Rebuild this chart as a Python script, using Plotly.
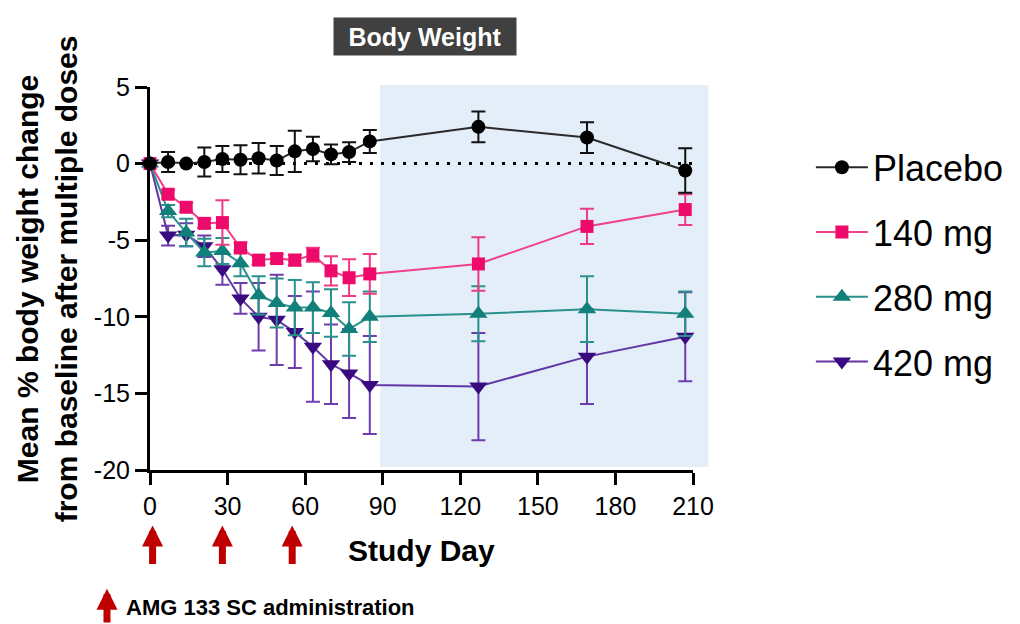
import plotly.graph_objects as go

# ---------------- data ----------------
days = [0, 7, 14, 21, 28, 35, 42, 49, 56, 63, 70, 77, 85, 127, 169, 207]

placebo = [0, 0.1, 0, 0.1, 0.3, 0.25, 0.35, 0.2, 0.8, 0.95, 0.6, 0.75, 1.45, 2.4, 1.7, -0.45]
placebo_err = [0, 0.65, 0, 0.95, 0.85, 0.95, 1.0, 0.95, 1.35, 0.8, 0.65, 0.65, 0.75, 1.0, 1.0, 1.45]

mg140 = [0, -2.0, -2.85, -3.9, -3.85, -5.5, -6.3, -6.2, -6.3, -5.95, -7.0, -7.45, -7.2, -6.55, -4.1, -3.0]
mg140_err = [0, 0.3, 0.3, 0.3, 1.45, 0.35, 0.3, 0.3, 0.35, 0.45, 0.95, 1.2, 1.3, 1.75, 1.15, 1.0]

mg280 = [0, -3.1, -4.5, -5.8, -5.7, -6.5, -8.6, -9.1, -9.4, -9.4, -9.75, -10.8, -10.0, -9.8, -9.5, -9.8]
mg280_err = [0, 0.4, 0.9, 0.9, 0.85, 0.85, 1.25, 1.6, 1.8, 1.65, 1.55, 1.75, 1.65, 1.8, 2.15, 1.45]

mg420 = [0, -4.7, -4.65, -5.4, -6.9, -8.8, -10.0, -10.2, -11.0, -11.95, -13.1, -13.7, -14.45, -14.55, -12.6, -11.3]
mg420_err = [0, 0.65, 0.75, 0.7, 1.0, 1.0, 2.2, 2.95, 2.35, 3.6, 2.6, 2.9, 3.2, 3.5, 3.1, 2.9]

dose_days = [1, 28, 55]
x_ticks = [0, 30, 60, 90, 120, 150, 180, 210]
y_ticks = [5, 0, -5, -10, -15, -20]
shade_start_day = 89

FONT = "Liberation Sans, Arial, sans-serif"

series = [
    # name, values, errors, marker symbol, marker color, line color, err color, size, rank
    ("420 mg", mg420, mg420_err, "triangle-down", "#3A0B80", "#6236A3", "#6E3DAD", 16, 4),
    ("280 mg", mg280, mg280_err, "triangle-up", "#117F7A", "#2A918C", "#2A918C", 16, 3),
    ("140 mg", mg140, mg140_err, "square", "#EE0A6B", "#F0408A", "#EE3A84", 13, 2),
    ("Placebo", placebo, placebo_err, "circle", "#000000", "#2A2A2A", "#111111", 14, 1),
]

fig = go.Figure()
for name, vals, errs, sym, mcol, lcol, ecol, size, rank in series:
    fig.add_trace(go.Scatter(
        x=days, y=vals, name=name, mode="lines+markers",
        marker=dict(symbol=sym, color=mcol, size=size, line=dict(width=0)),
        line=dict(color=lcol, width=2),
        error_y=dict(type="data", array=errs, visible=True, color=ecol,
                     thickness=2, width=7),
        cliponaxis=False, legendrank=rank, legendgroup=name,
    ))

X_MAX = 210
fig.update_layout(
    width=1020, height=624,
    margin=dict(l=150, r=327, t=87, b=154, autoexpand=False),
    paper_bgcolor="white", plot_bgcolor="rgba(0,0,0,0)",
    font=dict(family=FONT, color="black"),
    showlegend=True,
    legend=dict(
        xref="container", yref="container",
        x=0.795, xanchor="left", y=0.78, yanchor="top",
        font=dict(size=36, family=FONT, color="black"),
        tracegroupgap=15, itemwidth=52, bgcolor="rgba(0,0,0,0)",
        traceorder="grouped",
    ),
    xaxis=dict(
        range=[0, X_MAX], tickvals=x_ticks, ticktext=[str(v) for v in x_ticks],
        showgrid=False, zeroline=False, showline=True, linewidth=3,
        linecolor="black", ticks="outside", ticklen=12, tickwidth=3,
        tickcolor="black", tickfont=dict(size=25, family=FONT),
    ),
    yaxis=dict(
        range=[-20, 5], tickvals=y_ticks, ticktext=[str(v) for v in y_ticks],
        showgrid=False, zeroline=False, showline=True, linewidth=3,
        linecolor="black", ticks="outside", ticklen=12, tickwidth=3,
        tickcolor="black", tickfont=dict(size=25, family=FONT),
    ),
)

# shaded follow-up period (extends slightly past the axis end)
fig.add_shape(type="rect", xref="paper", yref="paper",
              x0=shade_start_day / X_MAX, x1=216 / X_MAX, y0=0.008, y1=1.005,
              fillcolor="#E3EEF8", line=dict(width=0), layer="below")

# dotted zero line
fig.add_shape(type="line", xref="x", yref="y", x0=0, x1=X_MAX, y0=0, y1=0,
              line=dict(color="black", width=3, dash="3px,8px"), layer="below")

# title box
fig.add_annotation(text="<b>Body Weight</b>", xref="paper", yref="paper",
                   x=0.5064, y=1.133, xanchor="center", yanchor="middle",
                   showarrow=False,
                   font=dict(size=25, color="white", family=FONT),
                   bgcolor="#404040", width=178, height=33, borderpad=2)

# y axis title
fig.add_annotation(text="<b>Mean % body weight change<br>from baseline after multiple doses</b>",
                   xref="paper", yref="paper", x=-0.19, y=0.5, textangle=-90,
                   xanchor="center", yanchor="middle",
                   showarrow=False, font=dict(size=30, family=FONT, color="black"))

# x axis title
fig.add_annotation(text="<b>Study Day</b>", xref="x", yref="paper",
                   x=X_MAX / 2, y=-0.209, xanchor="center", yanchor="middle",
                   showarrow=False,
                   font=dict(size=30, family=FONT, color="black"))

# dosing arrows
for d in dose_days:
    fig.add_annotation(text="", xref="x", yref="paper", x=d, y=-0.145,
                       ax=0, ay=40, showarrow=True, arrowhead=2, arrowsize=0.6,
                       arrowwidth=7, arrowcolor="#C00000", standoff=0)

# key for dosing arrows
fig.add_annotation(text="", xref="paper", yref="paper", x=-0.0792, y=-0.31,
                   ax=0, ay=42, showarrow=True, arrowhead=2, arrowsize=0.6,
                   arrowwidth=7, arrowcolor="#C00000", standoff=0)
fig.add_annotation(text="<b>AMG 133 SC administration</b>", xref="paper", yref="paper",
                   x=-0.0479, y=-0.360, xanchor="left", yanchor="middle",
                   showarrow=False,
                   font=dict(size=22, family=FONT, color="black"))

fig.write_html("out.html")
